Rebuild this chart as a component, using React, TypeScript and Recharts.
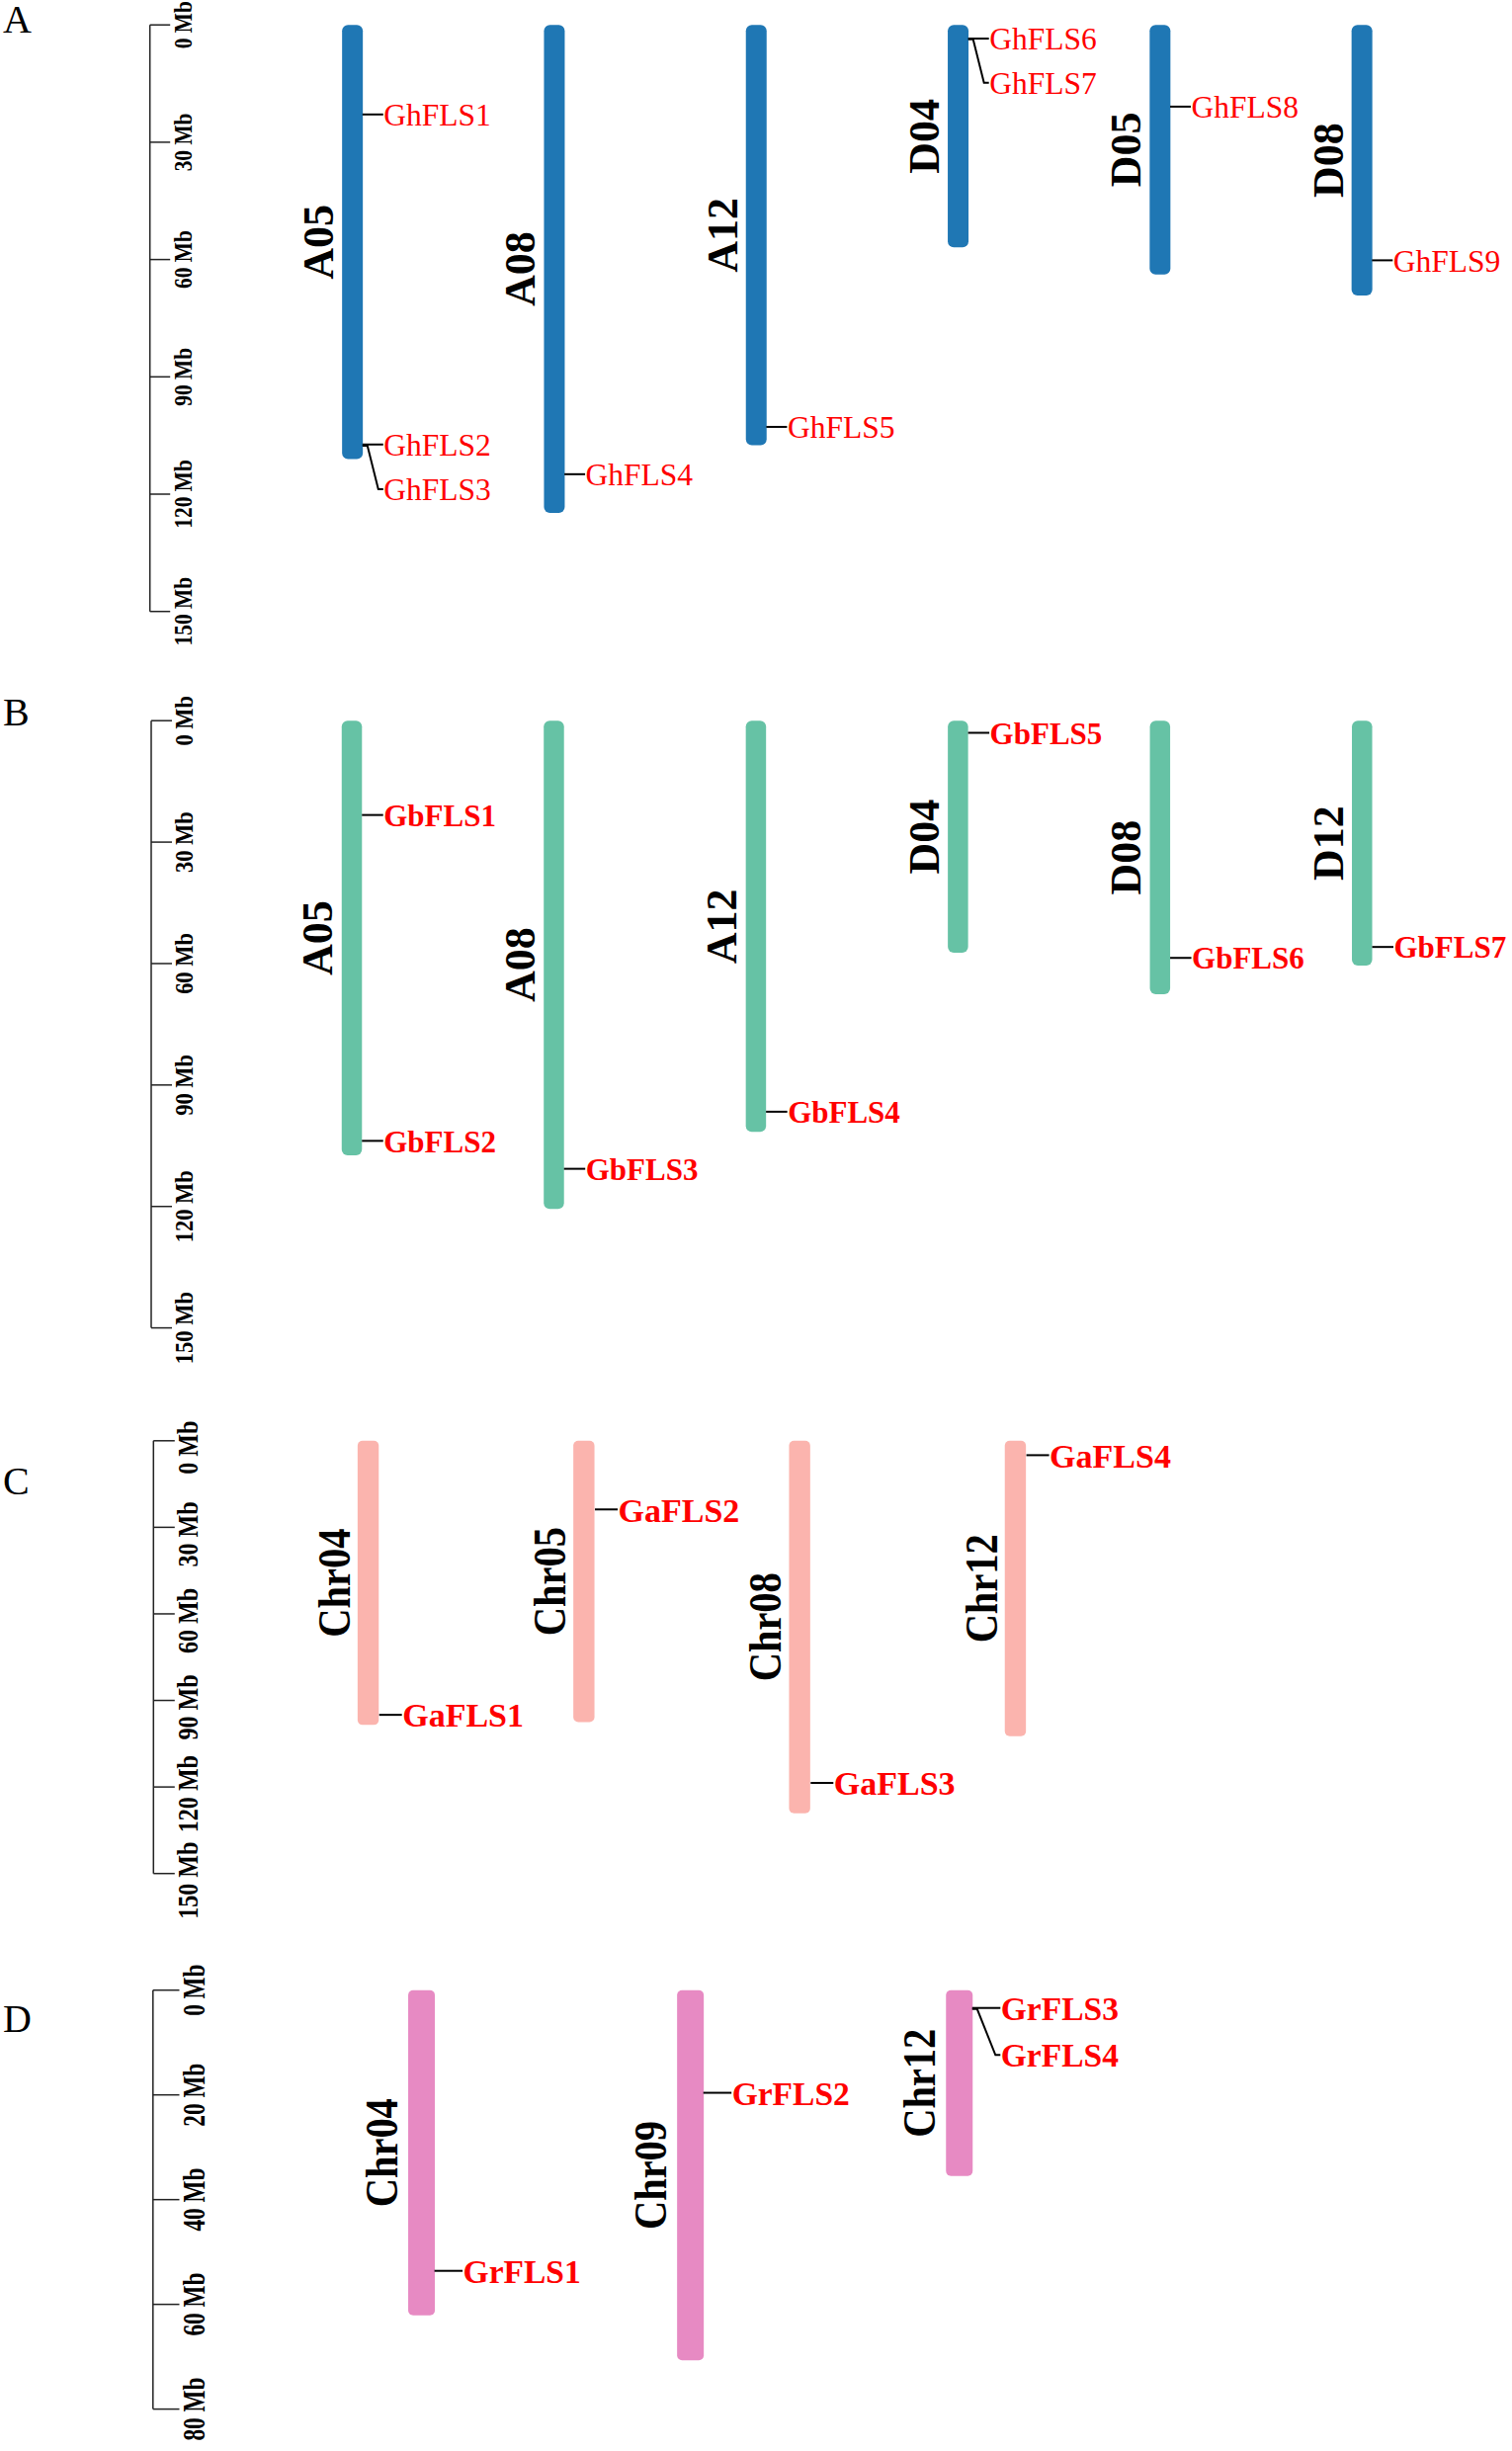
import React from "react";
import { ComposedChart, Bar, Scatter, XAxis, YAxis } from "recharts";

const FONT = '"Liberation Serif", "Times New Roman", Times, serif';

// A: G. hirsutum
const hirChroms = ["A05", "A08", "A12", "D04", "D05", "D08"];
const hirLengths = [111, 124.8, 107.5, 56.9, 63.8, 69.2];
const hirGenes = ["GhFLS1", "GhFLS2", "GhFLS3", "GhFLS4", "GhFLS5", "GhFLS6", "GhFLS7", "GhFLS8", "GhFLS9"];
const hirGeneChroms = ["A05", "A05", "A05", "A08", "A12", "D04", "D04", "D05", "D08"];
const hirGenePos = [22.9, 107.3, 107.6, 114.9, 102.8, 3.5, 3.7, 20.9, 60.2];

// B: G. barbadense
const barChroms = ["A05", "A08", "A12", "D04", "D08", "D12"];
const barLengths = [107.4, 120.6, 101.6, 57.3, 67.6, 60.5];
const barGenes = ["GbFLS1", "GbFLS2", "GbFLS3", "GbFLS4", "GbFLS5", "GbFLS6", "GbFLS7"];
const barGeneChroms = ["A05", "A05", "A08", "A12", "D04", "D08", "D12"];
const barGenePos = [23.3, 103.8, 110.7, 96.6, 3.0, 58.6, 55.9];

// C: G. arboreum
const arbChroms = ["Chr04", "Chr05", "Chr08", "Chr12"];
const arbLengths = [98.5, 97.5, 129.1, 102.4];
const arbGenes = ["GaFLS1", "GaFLS2", "GaFLS3", "GaFLS4"];
const arbGeneChroms = ["Chr04", "Chr05", "Chr08", "Chr12"];
const arbGenePos = [95.0, 23.8, 118.6, 5.0];

// D: G. raimondii
const raiChroms = ["Chr04", "Chr09", "Chr12"];
const raiLengths = [62.1, 70.7, 35.5];
const raiGenes = ["GrFLS1", "GrFLS2", "GrFLS3", "GrFLS4"];
const raiGeneChroms = ["Chr04", "Chr09", "Chr12", "Chr12"];
const raiGenePos = [53.6, 19.6, 3.4, 3.6];

const ticks150 = [0, 30, 60, 90, 120, 150];
const ticks80 = [0, 20, 40, 60, 80];

const panels = [
  {
    letter: "A", letterTop: 0, top: 0, height: 690, y0: 25.2, y1: 618.7, axisX: 151.7, firstX: 356.3, band: 204.3,
    max: 150, ticks: ticks150,
    chroms: hirChroms, lengths: hirLengths, genes: hirGenes, geneChroms: hirGeneChroms, genePos: hirGenePos,
    color: "#1f77b4", barW: 21, radius: 6, chromFs: 44, chromSx: 1, chromGap: 9,
    geneFs: 31.5, geneWeight: "normal", conn: 21, stackGap: 44,
    tickLen: 20.5, tickFs: 25.5, tickSx: 0.84, tickOff: 42, tickDy: 0,
  },
  {
    letter: "B", letterTop: 701, top: 690, height: 720, y0: 729.2, y1: 1343.6, axisX: 153, firstX: 356, band: 204.45,
    max: 150, ticks: ticks150,
    chroms: barChroms, lengths: barLengths, genes: barGenes, geneChroms: barGeneChroms, genePos: barGenePos,
    color: "#66c2a5", barW: 20.5, radius: 6, chromFs: 44, chromSx: 1, chromGap: 9.5,
    geneFs: 31, geneWeight: "bold", conn: 21.5, stackGap: 44,
    tickLen: 21, tickFs: 25, tickSx: 0.9, tickOff: 42.4, tickDy: 0,
  },
  {
    letter: "C", letterTop: 1479, top: 1410, height: 560, y0: 1457.8, y1: 1895.7, axisX: 155.3, firstX: 373, band: 218.3,
    max: 150, ticks: ticks150,
    chroms: arbChroms, lengths: arbLengths, genes: arbGenes, geneChroms: arbGeneChroms, genePos: arbGenePos,
    color: "#fbb4ae", barW: 21.4, radius: 5, chromFs: 46, chromSx: 0.88, chromGap: 8,
    geneFs: 34, geneWeight: "bold", conn: 23, stackGap: 46,
    tickLen: 21.5, tickFs: 29, tickSx: 0.83, tickOff: 45, tickDy: 7,
  },
  {
    letter: "D", letterTop: 2022.5, top: 1970, height: 510, y0: 2013.7, y1: 2437.6, axisX: 154.8, firstX: 426.1, band: 272.1,
    max: 80, ticks: ticks80,
    chroms: raiChroms, lengths: raiLengths, genes: raiGenes, geneChroms: raiGeneChroms, genePos: raiGenePos,
    color: "#e78ac3", barW: 27, radius: 5, chromFs: 46, chromSx: 0.88, chromGap: 11,
    geneFs: 33.5, geneWeight: "bold", conn: 28.5, stackGap: 46.5,
    tickLen: 26.7, tickFs: 31, tickSx: 0.75, tickOff: 52, tickDy: 0,
  },
];

// rotated text, reading bottom to top, centred on (x, y) with its baseline at x
const UpText = ({ x, y, fs, sx, weight, children }: any) => (
  <text
    x={0}
    y={0}
    transform={`translate(${x} ${y}) rotate(-90) scale(${sx} 1)`}
    textAnchor="middle"
    fontFamily={FONT}
    fontWeight={weight}
    fontSize={fs}
    fill="#000"
  >
    {children}
  </text>
);

const ChromShape = (props: any) => {
  const { x, y, width, height, payload, p } = props;
  const top = Math.min(y, y + height);
  const h = Math.abs(height);
  return (
    <g>
      <rect x={x} y={top} width={width} height={h} rx={p.radius} ry={p.radius} fill={p.color} />
      <UpText x={x - p.chromGap} y={top + h / 2} fs={p.chromFs} sx={p.chromSx} weight="bold">
        {payload.chr}
      </UpText>
    </g>
  );
};

const GeneMark = (props: any) => {
  const { cx, cy, payload, p } = props;
  const x0 = cx + p.barW / 2;
  const x1 = x0 + p.conn;
  const ly = cy + payload.stack * p.stackGap;
  const d = payload.stack
    ? `M${x0},${cy}H${x0 + 5}L${x1 - 5},${ly}H${x1}`
    : `M${x0},${cy}H${x1}`;
  return (
    <g>
      <path d={d} stroke="#000" strokeWidth={2} fill="none" />
      <text
        x={x1 + 0.5}
        y={ly + p.geneFs * 0.36}
        fontFamily={FONT}
        fontWeight={p.geneWeight}
        fontSize={p.geneFs}
        fill="#ff0000"
      >
        {payload.name}
      </text>
    </g>
  );
};

const MbTick = (props: any) => {
  const { x, y, payload, p } = props;
  return (
    <UpText x={x} y={y + p.tickDy} fs={p.tickFs} sx={p.tickSx} weight="bold">
      {`${payload.value} Mb`}
    </UpText>
  );
};

const ChromPanel = ({ p }: { p: any }) => {
  const rows = p.chroms.map((c: string, i: number) => ({ chr: c, len: p.lengths[i] }));
  // genes lying almost on top of an earlier one get their label pushed down
  const genes = p.genes.map((g: string, i: number) => {
    let stack = 0;
    for (let j = 0; j < i; j++) {
      if (p.geneChroms[j] === p.geneChroms[i] && Math.abs(p.genePos[j] - p.genePos[i]) < 2) stack++;
    }
    return { chr: p.geneChroms[i], pos: p.genePos[i], name: g, stack };
  });
  const padLeft = p.firstX - p.axisX - p.band / 2;
  const plotRight = p.axisX + padLeft + p.band * p.chroms.length;
  return (
    <div style={{ position: "absolute", left: 0, top: p.top, width: 1530, height: p.height }}>
      <ComposedChart
        width={1530}
        height={p.height}
        data={rows}
        margin={{ top: p.y0 - p.top, bottom: p.top + p.height - p.y1, left: p.axisX, right: 1530 - plotRight }}
      >
        <XAxis
          dataKey="chr"
          type="category"
          hide
          allowDuplicatedCategory={false}
          padding={{ left: padLeft, right: 0 }}
        />
        <YAxis
          type="number"
          domain={[0, p.max]}
          ticks={p.ticks}
          interval={0}
          reversed
          mirror
          tickSize={p.tickLen}
          tickMargin={p.tickOff - p.tickLen}
          axisLine={{ stroke: "#222", strokeWidth: 1.5 }}
          tickLine={{ stroke: "#222", strokeWidth: 1.5 }}
          tick={(t: any) => <MbTick {...t} p={p} />}
        />
        <Bar
          dataKey="len"
          barSize={p.barW}
          isAnimationActive={false}
          shape={(s: any) => <ChromShape {...s} p={p} />}
        />
        <Scatter
          data={genes}
          dataKey="pos"
          isAnimationActive={false}
          shape={(s: any) => <GeneMark {...s} p={p} />}
        />
      </ComposedChart>
      <div
        style={{
          position: "absolute",
          left: 3,
          top: p.letterTop - p.top,
          fontFamily: FONT,
          fontSize: 40,
          lineHeight: "40px",
        }}
      >
        {p.letter}
      </div>
    </div>
  );
};

export default function App() {
  return (
    <div style={{ position: "absolute", left: 0, top: 0, width: 1530, height: 2480, background: "#fff" }}>
      {panels.map((p) => (
        <ChromPanel key={p.letter} p={p} />
      ))}
    </div>
  );
}
